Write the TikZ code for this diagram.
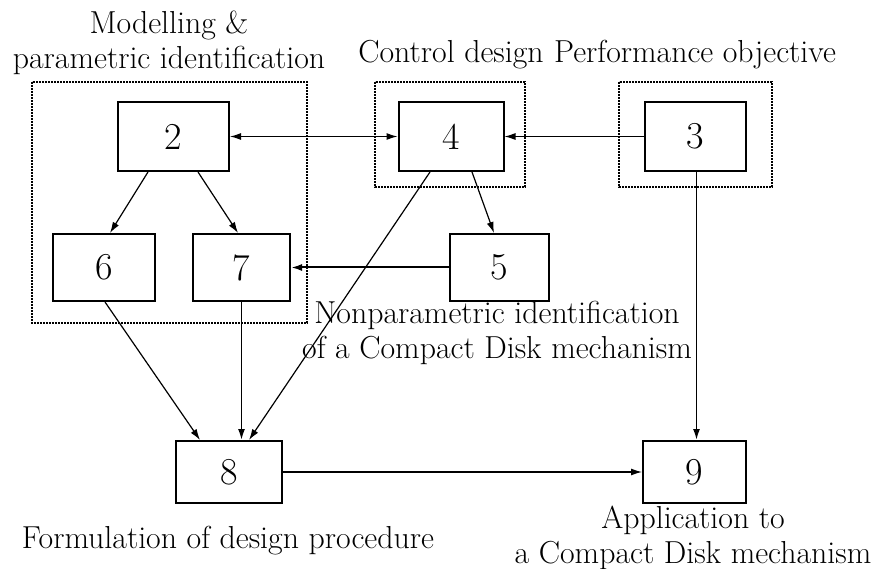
\documentclass[tikz,border=0pt]{standalone}
\usetikzlibrary{arrows.meta}
\begin{document}
\begin{tikzpicture}[x=1pt,y=-1pt,
  blk/.style={draw,line width=2pt,minimum width=105pt,minimum height=68pt,inner sep=0pt,font=\fontsize{38}{40}\selectfont},
  grp/.style={draw,line width=1.4pt,dash pattern=on 1.6pt off 1.4pt},
  lbl/.style={font=\fontsize{31.8}{35}\selectfont,align=center,inner sep=0pt},
  arr/.style={line width=1.2pt,-{Latex[length=11pt,width=7pt]}},
  darr/.style={line width=1.2pt,{Latex[length=11pt,width=7pt]}-{Latex[length=11pt,width=7pt]}}]
\useasboundingbox (0,0) rectangle (886,569);
% groups
\draw[grp] (32,82) rectangle (307,323);
\draw[grp] (375,82) rectangle (525,187);
\draw[grp] (619,82) rectangle (772,187);
% blocks
\node[blk,minimum width=111pt,minimum height=69pt] (b2) at (173.5,136.5) {2};
\node[blk,minimum width=105pt,minimum height=69pt] (b4) at (451,136.5) {4};
\node[blk,minimum width=101pt,minimum height=69pt] (b3) at (695.5,136.5) {3};
\node[blk,minimum width=102pt,minimum height=67pt] (b6) at (104,267.5) {6};
\node[blk,minimum width=97pt,minimum height=67pt] (b7) at (241.5,267.5) {7};
\node[blk,minimum width=99pt,minimum height=67pt] (b5) at (499.5,267.5) {5};
\node[blk,minimum width=106pt,minimum height=62pt] (b8) at (229,472) {8};
\node[blk,minimum width=103pt,minimum height=62pt] (b9) at (694.5,472) {9};
% labels
\node[lbl] (l1) at (169,43) {Modelling \&\\parametric identification};
\node[lbl] (l2) at (451,55) {Control design};
\node[lbl] (l3) at (695,55) {Performance objective};
\node[lbl] (l4) at (497,333) {Nonparametric identification\\of a Compact Disk mechanism};
\node[lbl] (l5) at (228,541) {Formulation of design procedure};
\node[lbl] (l6) at (693,538) {Application to\\a Compact Disk mechanism};
% connectors
\draw[darr] (b2.east) -- (b4.west);
\draw[arr] (b3.west) -- (b4.east);
\draw[arr] ([xshift=-25.5pt]b2.south) -- ([xshift=6pt]b6.north);
\draw[arr] ([xshift=24.5pt]b2.south) -- ([xshift=-3.5pt]b7.north);
\draw[arr] ([xshift=21pt]b4.south) -- ([xshift=-5.5pt]b5.north);
\draw[arr] ([xshift=-21pt]b4.south) -- ([xshift=20pt]b8.north);
\draw[arr,line width=2pt] (b5.west) -- (b7.east);
\draw[arr] ([xshift=1pt]b6.south) -- ([xshift=-29pt]b8.north);
\draw[arr,line width=1.7pt] (b7.south) -- ([xshift=12.5pt]b8.north);
\draw[arr] (b8.east) -- (b9.west);
\draw[arr,line width=1.7pt] ([xshift=1pt]b3.south) -- ([xshift=2pt]b9.north);
\end{tikzpicture}
\end{document}
